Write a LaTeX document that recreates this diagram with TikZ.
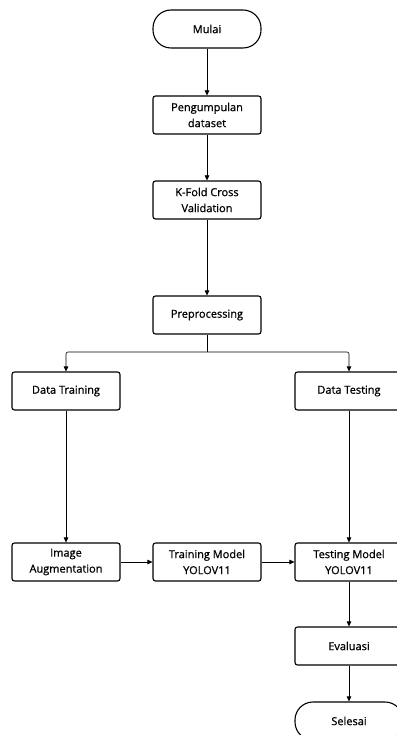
\documentclass[tikz,border=0pt]{standalone}
\usepackage{fontspec}
\setmainfont{Open Sans}
\newfontfamily\hurufkotak{Open Sans}[FakeBold=0.8]
\usetikzlibrary{arrows.meta}

\begin{document}
\begin{tikzpicture}[x=1pt,y=-1pt,
  proses/.style={draw, line width=1.1pt, rounded corners=2.5pt, minimum width=108pt, minimum height=38pt, inner sep=2pt, align=center, font=\hurufkotak\fontsize{11}{16}\selectfont},
  terminal/.style={proses, rounded corners=18pt},
  panah/.style={-{Triangle[length=5pt,width=4.5pt]}, line width=0.6pt}]
\useasboundingbox (0,0) rectangle (396,735);
\node[terminal] (mulai) at (207, 29) {Mulai};
\node[proses] (kumpul) at (207, 115) {Pengumpulan\\dataset};
\node[proses] (kfold) at (207, 200) {K-Fold Cross\\Validation};
\node[proses] (prepro) at (207, 315) {Preprocessing};
\node[proses] (train) at (66, 391) {Data Training};
\node[proses] (test) at (349, 391) {Data Testing};
\node[proses] (aug) at (66, 562) {Image\\Augmentation};
\node[proses] (trmodel) at (207, 562) {Training Model\\YOLOV11};
\node[proses] (tsmodel) at (349, 562) {Testing Model\\YOLOV11};
\node[proses] (eval) at (349, 646) {Evaluasi};
\node[terminal] (selesai) at (349, 721) {Selesai};
\coordinate (cabang) at (207, 352);

\draw[panah] (mulai) -- (kumpul);
\draw[panah] (kumpul) -- (kfold);
\draw[panah] (kfold) -- (prepro);
\draw[line width=0.6pt] (prepro) -- (cabang);
\draw[panah, rounded corners=2pt] (cabang) -| (train);
\draw[panah, rounded corners=2pt] (cabang) -| (test);
\draw[panah] (train) -- (aug);
\draw[panah] (aug) -- (trmodel);
\draw[panah] (trmodel) -- (tsmodel);
\draw[panah] (test) -- (tsmodel);
\draw[panah] (tsmodel) -- (eval);
\draw[panah] (eval) -- (selesai);
\end{tikzpicture}
\end{document}
